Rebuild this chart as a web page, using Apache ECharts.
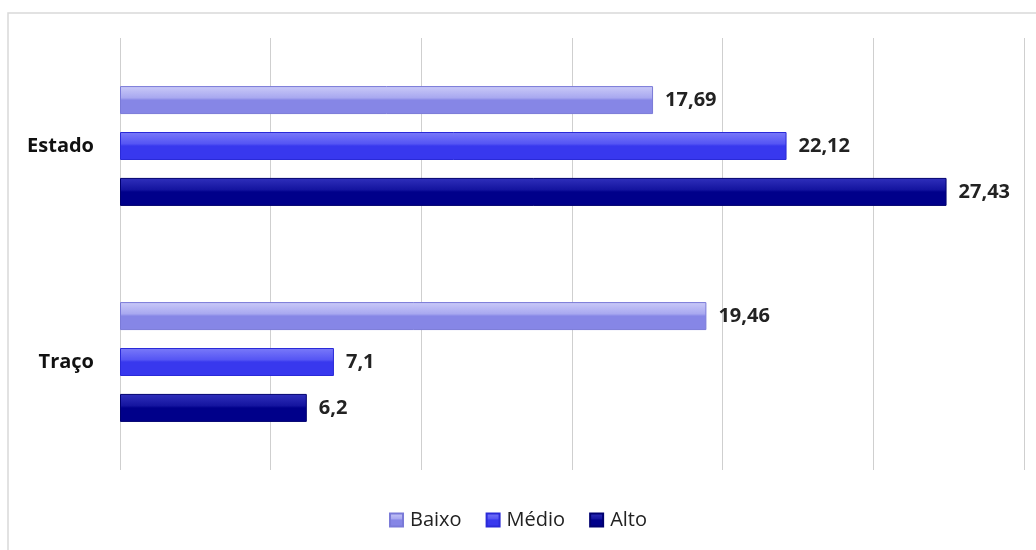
<!DOCTYPE html>
<html><head><meta charset="utf-8">
<script src="https://cdn.jsdelivr.net/npm/echarts@6/dist/echarts.min.js"></script>
<style>html,body{margin:0;padding:0;background:#fff}#c{width:1036px;height:550px}</style>
</head><body><div id="c"></div>
<script>
const categories = ['Estado', 'Traço'];
const seriesNames = ['Baixo', 'Médio', 'Alto'];
const baixo = [17.69, 19.46];
const medio = [22.12, 7.1];
const alto = [27.43, 6.2];
const xTicks = [0, 5, 10, 15, 20, 25, 30];

const palette = [
  {top: '#cacaf8', mid: '#a8a8f0', bottom: '#8686e6', border: '#7a7ad8'},
  {top: '#7a7af9', mid: '#5555f4', bottom: '#3838ee', border: '#2a2ad8'},
  {top: '#3030bc', mid: '#14149f', bottom: '#00008a', border: '#000070'}
];
function grad(p){
  return new echarts.graphic.LinearGradient(0,0,0,1,[
    {offset:0,color:p.top},{offset:0.42,color:p.mid},
    {offset:0.5,color:p.bottom},{offset:1,color:p.bottom}
  ]);
}
const dataSets = [baixo, medio, alto];
const chart = echarts.init(document.getElementById('c'));
chart.setOption({
  animation:false,
  graphic:[{type:'rect',shape:{x:8,y:13,width:1040,height:560},style:{fill:'none',stroke:'#d9d9d9',lineWidth:1.5},silent:true}],
  legend:{data:seriesNames,bottom:15,left:'center',itemWidth:13,itemHeight:13,itemGap:24,
    textStyle:{fontFamily:'Open Sans',fontSize:20,color:'#222',padding:[0,0,0,2]},
    icon:'rect'},
  grid:{left:120,right:12,top:38,bottom:80},
  xAxis:{type:'value',min:xTicks[0],max:xTicks[xTicks.length-1],interval:5,
    axisLabel:{show:false},axisLine:{show:false},axisTick:{show:false},
    splitLine:{lineStyle:{color:'#cfcfcf',width:1}}},
  yAxis:{type:'category',data:categories,inverse:true,
    axisLine:{show:false},axisTick:{show:false},
    axisLabel:{margin:26,fontFamily:'Open Sans',fontWeight:'bold',fontSize:20,color:'#111'}},
  series:dataSets.map((d,i)=>({
    name:seriesNames[i],type:'bar',data:d,barWidth:28,barGap:'64%',
    itemStyle:{color:grad(palette[i]),borderColor:palette[i].border,borderWidth:1},
    label:{show:true,position:'right',distance:12,fontFamily:'Open Sans',fontWeight:'bold',fontSize:20,color:'#222',
      formatter:p=>String(p.value).replace('.',',')}
  }))
});
</script></body></html>
